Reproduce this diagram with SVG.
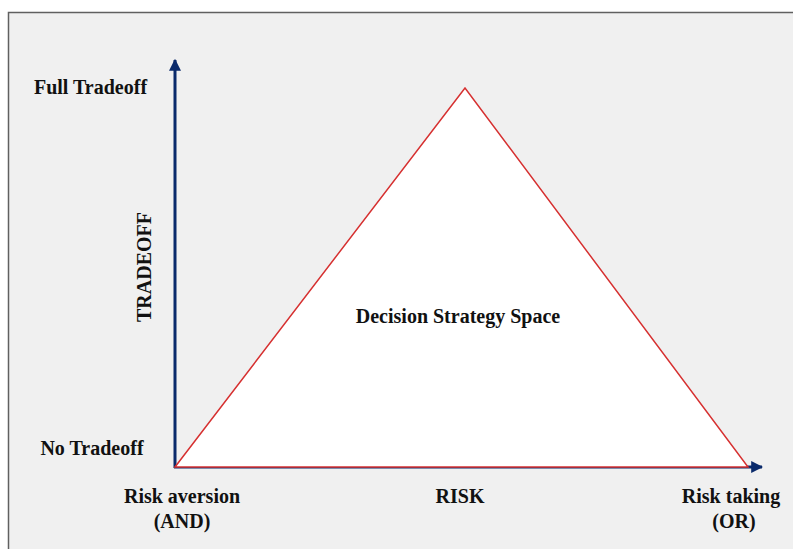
<svg xmlns="http://www.w3.org/2000/svg" width="793" height="549" viewBox="0 0 793 549">
  <style>
    text { font-family: 'Liberation Serif', 'Times New Roman', serif; font-weight: bold; font-size: 20px; fill: #111111; }
    .axis { stroke: #0a2a6b; stroke-width: 3; fill: none; }
  </style>
  <defs>
    <marker id="arrow" viewBox="0 0 10 10" refX="9" refY="5" markerWidth="4" markerHeight="4" orient="auto" markerUnits="strokeWidth">
      <path d="M0,0 L10,5 L0,10 z" fill="#0a2a6b"/>
    </marker>
  </defs>
  <rect x="0" y="0" width="793" height="549" fill="#ffffff"/>
  <rect x="8.5" y="12.5" width="790" height="545" fill="#f0f0f0" stroke="#606060" stroke-width="1.5"/>

  <g id="connectors">
    <line class="axis" x1="175" y1="468" x2="175" y2="60" marker-end="url(#arrow)"/>
    <line class="axis" x1="174" y1="467" x2="762" y2="467" marker-end="url(#arrow)"/>
  </g>

  <g id="strategy-space">
    <polygon points="175,467 465,88 748,467" fill="#ffffff" stroke="#d63030" stroke-width="1.5"/>
    <text x="458" y="323" text-anchor="middle">Decision Strategy Space</text>
  </g>

  <g id="full-tradeoff"><text x="90.5" y="94" text-anchor="middle">Full Tradeoff</text></g>
  <g id="no-tradeoff"><text x="92" y="455" text-anchor="middle">No Tradeoff</text></g>
  <g id="tradeoff-axis"><text transform="translate(151,267) rotate(-90)" text-anchor="middle">TRADEOFF</text></g>
  <g id="risk-aversion">
    <text x="182" y="503" text-anchor="middle">Risk aversion</text>
    <text x="182" y="528" text-anchor="middle">(AND)</text>
  </g>
  <g id="risk-axis"><text x="460" y="503" text-anchor="middle">RISK</text></g>
  <g id="risk-taking">
    <text x="731" y="503" text-anchor="middle">Risk taking</text>
    <text x="734" y="528" text-anchor="middle">(OR)</text>
  </g>
</svg>
